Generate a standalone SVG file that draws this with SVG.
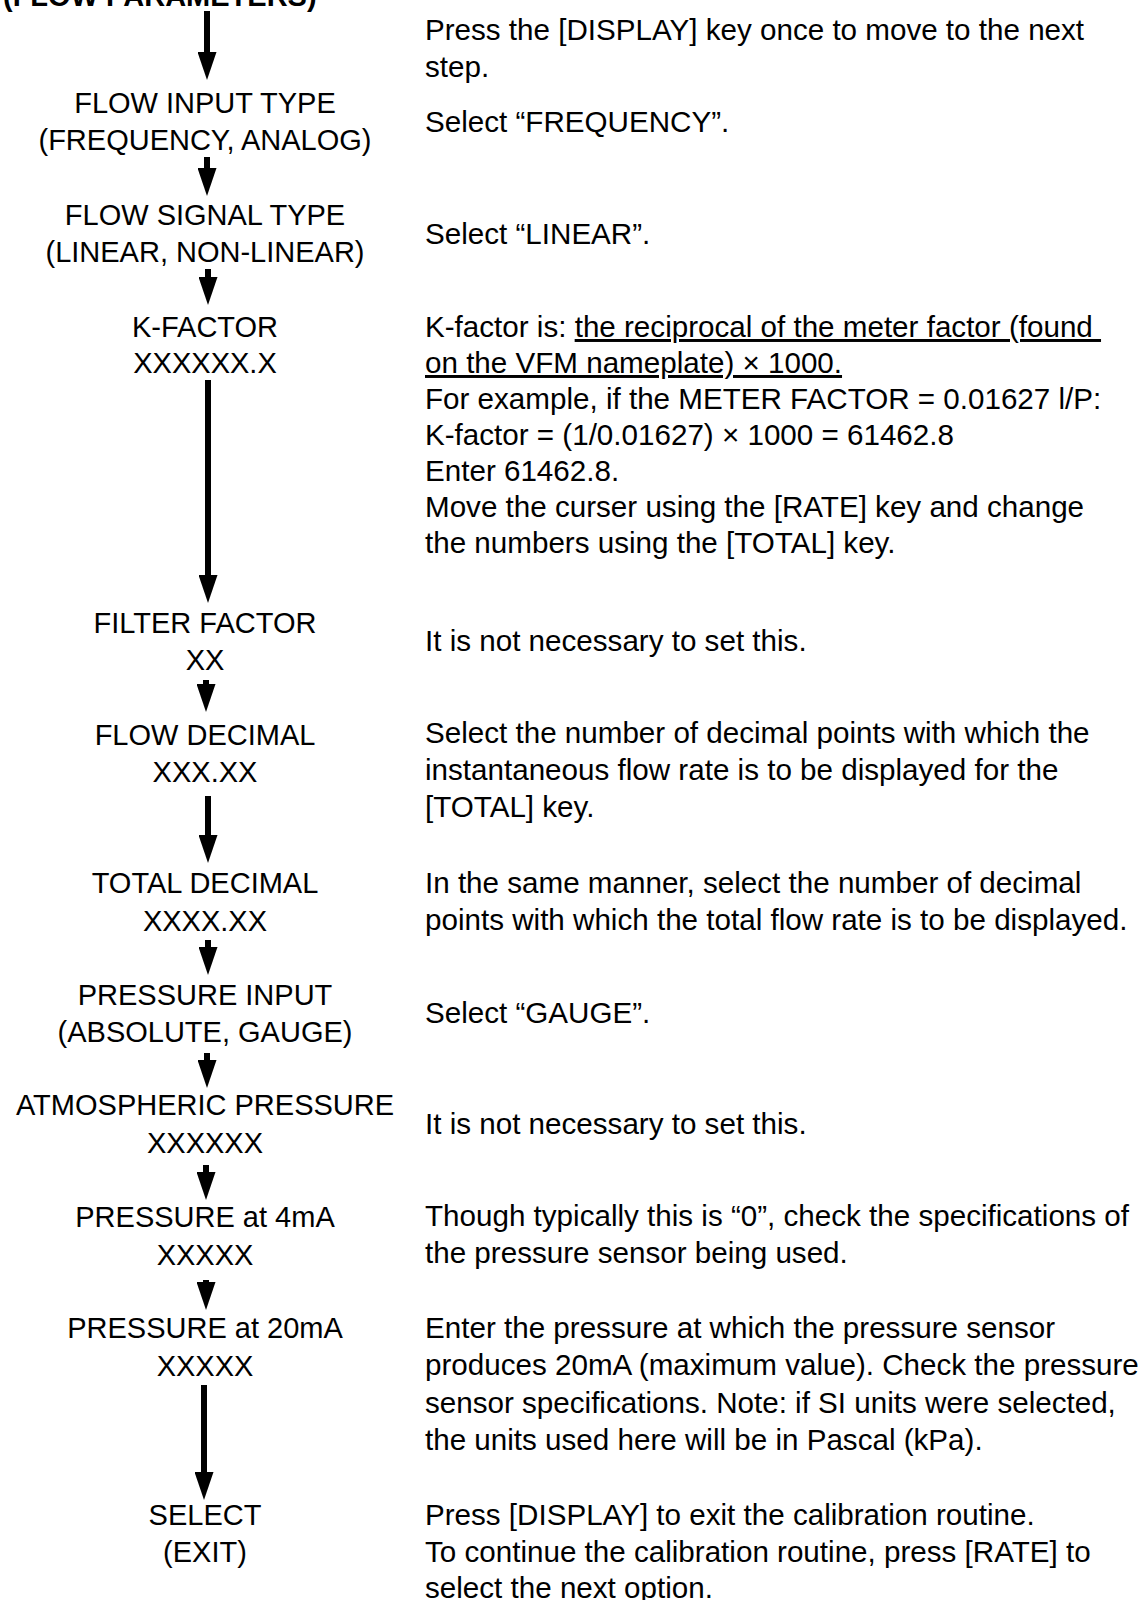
<svg xmlns="http://www.w3.org/2000/svg" width="1144" height="1600" viewBox="0 0 1144 1600">
<style>
text { font-family: "Liberation Sans", Arial, sans-serif; font-size: 29px; fill: #000; }
.lbl { text-anchor: middle; }
.title { font-weight: bold; }
.desc { white-space: pre; font-size: 29.6px; }
.u { text-decoration: underline; }
.conn line { stroke: #000; stroke-width: 6; }
</style>
<defs>
<marker id="ah" markerUnits="userSpaceOnUse" markerWidth="28" markerHeight="19" refX="8" refY="9.5" orient="auto" viewBox="0 0 28 19">
<path d="M0,0 L28,9.5 L0,19 z" fill="#000"/>
</marker>
</defs>
<rect width="1144" height="1600" fill="#fff"/>

<g id="header"><text class="title" x="3" y="6">(FLOW PARAMETERS)</text></g>

<g class="conn" id="connectors">
<line x1="207" y1="11" x2="207" y2="60" marker-end="url(#ah)"/>
<line x1="207" y1="157" x2="207" y2="176" marker-end="url(#ah)"/>
<line x1="208" y1="269" x2="208" y2="285" marker-end="url(#ah)"/>
<line x1="208" y1="380" x2="208" y2="583" marker-end="url(#ah)"/>
<line x1="206" y1="680" x2="206" y2="692" marker-end="url(#ah)"/>
<line x1="208" y1="796" x2="208" y2="843" marker-end="url(#ah)"/>
<line x1="208" y1="940" x2="208" y2="955" marker-end="url(#ah)"/>
<line x1="207" y1="1053" x2="207" y2="1068" marker-end="url(#ah)"/>
<line x1="206" y1="1165" x2="206" y2="1180" marker-end="url(#ah)"/>
<line x1="206" y1="1280" x2="206" y2="1290" marker-end="url(#ah)"/>
<line x1="204" y1="1385" x2="204" y2="1480" marker-end="url(#ah)"/>
</g>

<g id="step-start">
<text class="desc" x="425" y="40">Press the [DISPLAY] key once to move to the next</text>
<text class="desc" x="425" y="77">step.</text>
</g>

<g id="flow-input-type">
<text class="lbl" x="205" y="113">FLOW INPUT TYPE</text>
<text class="lbl" x="205" y="150">(FREQUENCY, ANALOG)</text>
<text class="desc" x="425" y="132">Select “FREQUENCY”.</text>
</g>

<g id="flow-signal-type">
<text class="lbl" x="205" y="225">FLOW SIGNAL TYPE</text>
<text class="lbl" x="205" y="262">(LINEAR, NON-LINEAR)</text>
<text class="desc" x="425" y="244">Select “LINEAR”.</text>
</g>

<g id="k-factor">
<text class="lbl" x="205" y="337">K-FACTOR</text>
<text class="lbl" x="205" y="373">XXXXXX.X</text>
<text class="desc" x="425" y="337">K-factor is: <tspan class="u">the reciprocal of the meter factor (found </tspan></text>
<text class="desc" x="425" y="373"><tspan class="u">on the VFM nameplate) × 1000.</tspan></text>
<text class="desc" x="425" y="409">For example, if the METER FACTOR = 0.01627 l/P:</text>
<text class="desc" x="425" y="445">K-factor = (1/0.01627) × 1000 = 61462.8</text>
<text class="desc" x="425" y="481">Enter 61462.8.</text>
<text class="desc" x="425" y="517">Move the curser using the [RATE] key and change</text>
<text class="desc" x="425" y="553">the numbers using the [TOTAL] key.</text>
</g>

<g id="filter-factor">
<text class="lbl" x="205" y="633">FILTER FACTOR</text>
<text class="lbl" x="205" y="670">XX</text>
<text class="desc" x="425" y="651">It is not necessary to set this.</text>
</g>

<g id="flow-decimal">
<text class="lbl" x="205" y="745">FLOW DECIMAL</text>
<text class="lbl" x="205" y="782">XXX.XX</text>
<text class="desc" x="425" y="743">Select the number of decimal points with which the</text>
<text class="desc" x="425" y="780">instantaneous flow rate is to be displayed for the</text>
<text class="desc" x="425" y="817">[TOTAL] key.</text>
</g>

<g id="total-decimal">
<text class="lbl" x="205" y="893">TOTAL DECIMAL</text>
<text class="lbl" x="205" y="931">XXXX.XX</text>
<text class="desc" x="425" y="893">In the same manner, select the number of decimal</text>
<text class="desc" x="425" y="930">points with which the total flow rate is to be displayed.</text>
</g>

<g id="pressure-input">
<text class="lbl" x="205" y="1005">PRESSURE INPUT</text>
<text class="lbl" x="205" y="1042">(ABSOLUTE, GAUGE)</text>
<text class="desc" x="425" y="1023">Select “GAUGE”.</text>
</g>

<g id="atmospheric-pressure">
<text class="lbl" x="205" y="1115">ATMOSPHERIC PRESSURE</text>
<text class="lbl" x="205" y="1153">XXXXXX</text>
<text class="desc" x="425" y="1134">It is not necessary to set this.</text>
</g>

<g id="pressure-4ma">
<text class="lbl" x="205" y="1227">PRESSURE at 4mA</text>
<text class="lbl" x="205" y="1265">XXXXX</text>
<text class="desc" x="425" y="1226">Though typically this is “0”, check the specifications of</text>
<text class="desc" x="425" y="1263">the pressure sensor being used.</text>
</g>

<g id="pressure-20ma">
<text class="lbl" x="205" y="1338">PRESSURE at 20mA</text>
<text class="lbl" x="205" y="1376">XXXXX</text>
<text class="desc" x="425" y="1338">Enter the pressure at which the pressure sensor</text>
<text class="desc" x="425" y="1375">produces 20mA (maximum value). Check the pressure</text>
<text class="desc" x="425" y="1413">sensor specifications. Note: if SI units were selected,</text>
<text class="desc" x="425" y="1450">the units used here will be in Pascal (kPa).</text>
</g>

<g id="select-exit">
<text class="lbl" x="205" y="1525">SELECT</text>
<text class="lbl" x="205" y="1562">(EXIT)</text>
<text class="desc" x="425" y="1525">Press [DISPLAY] to exit the calibration routine.</text>
<text class="desc" x="425" y="1562">To continue the calibration routine, press [RATE] to</text>
<text class="desc" x="425" y="1598">select the next option.</text>
</g>
</svg>
